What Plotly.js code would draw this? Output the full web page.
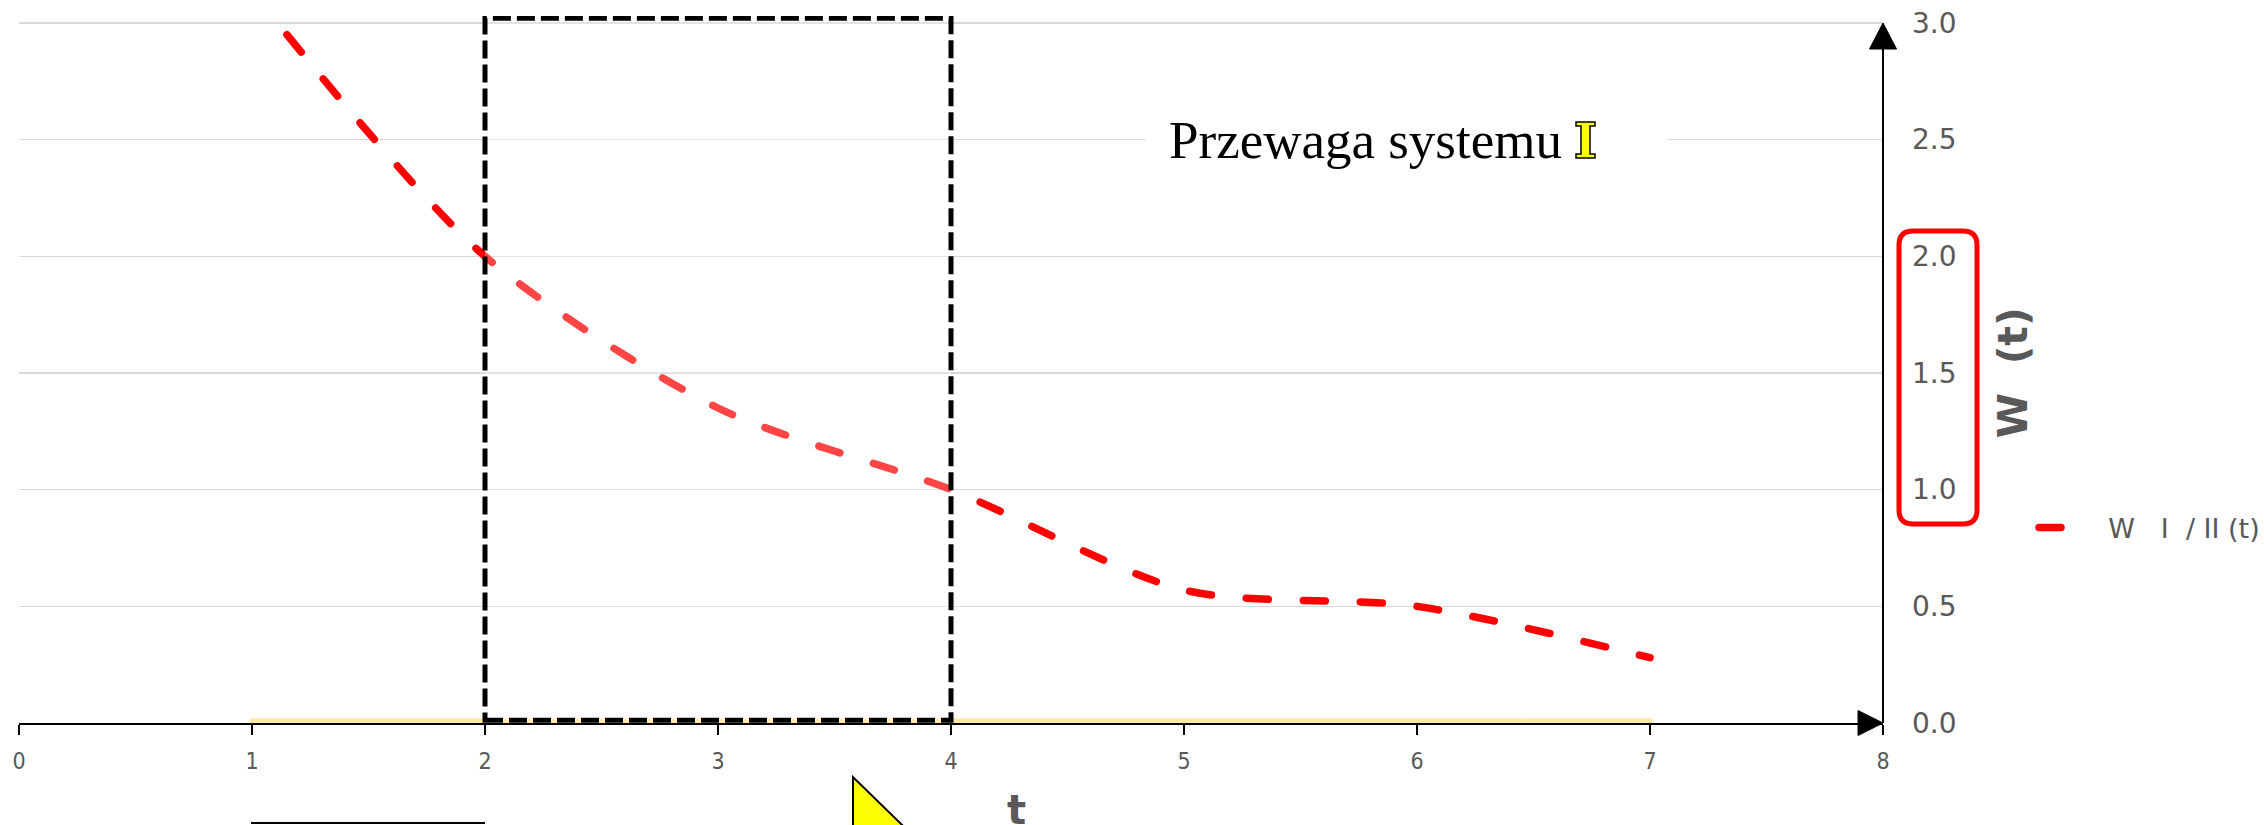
<!DOCTYPE html>
<html>
<head>
<meta charset="utf-8">
<script src="https://cdn.plot.ly/plotly-3.0.1.min.js"></script>
<style>
html,body{margin:0;padding:0;background:#fff;}
#chart{width:2264px;height:825px;}
.scatterlayer .js-line, .legend .js-line{stroke-linecap:round;}
</style>
</head>
<body>
<div id="chart"></div>
<script>
// ---- data ----
var ratioX = [1.15, 2, 3, 4, 5, 6, 7];
var ratioY = [2.95, 2.0, 1.35, 1.0, 0.57, 0.50, 0.28];
var baseX = [1, 2, 3, 4, 5, 6, 7];
var baseY = [0.01, 0.01, 0.01, 0.01, 0.01, 0.01, 0.01];
var xTicks = [0, 1, 2, 3, 4, 5, 6, 7, 8];
var yTicks = [0, 0.5, 1.0, 1.5, 2.0, 2.5, 3.0];
var seriesName = '\u00a0\u00a0\u00a0\u00a0W\u00a0\u00a0\u00a0I\u00a0\u00a0/ II (t)';
var boxFrom = 2, boxTo = 4;
var noteText = 'Przewaga systemu';
var gray = '#595959';

var traces = [
  {x: baseX, y: baseY, type: 'scatter', mode: 'lines', showlegend: false, hoverinfo: 'skip',
   line: {color: 'rgba(255,192,0,0.35)', width: 5}},
  {x: ratioX, y: ratioY, type: 'scatter', mode: 'lines', name: seriesName,
   line: {color: '#FF0000', width: 7.5, dash: '22px,35px', shape: 'spline', smoothing: 0.8}}
];

var shapes = [
  // white box behind note
  {type: 'rect', xref: 'x', yref: 'y', x0: 4.837, x1: 7.073, y0: 2.33, y1: 2.67,
   fillcolor: '#ffffff', line: {width: 0}, layer: 'between'},
  // dashed highlight box
  {type: 'rect', xref: 'x', yref: 'y', x0: boxFrom, x1: boxTo, y0: 0.012, y1: 3.02,
   fillcolor: 'rgba(255,255,255,0.27)', line: {color: '#000', width: 5, dash: '18px,6px'}, layer: 'above'},
  // y axis line
  {type: 'line', xref: 'paper', yref: 'y', x0: 1, x1: 1, y0: 0, y1: 2.95,
   line: {color: '#000', width: 2}},
  // x arrow head
  {type: 'path', xref: 'paper', yref: 'paper', xsizemode: 'pixel', ysizemode: 'pixel', xanchor: 1, yanchor: 0,
   path: 'M 0,0 L -25,12.5 L -25,-12.5 Z', fillcolor: '#000', line: {color: '#000', width: 1}},
  // y arrow head
  {type: 'path', xref: 'paper', yref: 'paper', xsizemode: 'pixel', ysizemode: 'pixel', xanchor: 1, yanchor: 0,
   path: 'M 0,700 L -13.5,674 L 13.5,674 Z', fillcolor: '#000', line: {color: '#000', width: 1}},
  // red rounded frame around ticks
  {type: 'path', xref: 'paper', yref: 'paper', xsizemode: 'pixel', ysizemode: 'pixel', xanchor: 1, yanchor: 0,
   path: 'M 30,492 L 80,492 Q 94,492 94,478 L 94,213 Q 94,199 80,199 L 30,199 Q 16,199 16,213 L 16,478 Q 16,492 30,492 Z',
   line: {color: '#FF0000', width: 5}},
  // yellow outlined I
  {type: 'path', xref: 'paper', yref: 'paper', xsizemode: 'pixel', ysizemode: 'pixel', xanchor: 0, yanchor: 0,
   path: 'M 1557,565 L 1576,565 L 1576,569 L 1571,569 L 1571,597 L 1576,597 L 1576,601 L 1557,601 L 1557,597 L 1562,597 L 1562,569 L 1557,569 Z',
   fillcolor: '#FFFF00', line: {color: '#000', width: 1.5}},
  // yellow triangle at bottom
  {type: 'path', xref: 'paper', yref: 'paper', xsizemode: 'pixel', ysizemode: 'pixel', xanchor: 0, yanchor: 0,
   path: 'M 834,-54 L 834,-180 L 963,-180 Z', fillcolor: '#FFFF00', line: {color: '#000', width: 2}},
  // bottom line segment
  {type: 'path', xref: 'paper', yref: 'paper', xsizemode: 'pixel', ysizemode: 'pixel', xanchor: 0, yanchor: 0,
   path: 'M 232,-100 L 466,-100', line: {color: '#000', width: 2}}
];

var annotations = [
  {xref: 'x', yref: 'y', x: 4.927, y: 2.5, xanchor: 'left', yanchor: 'middle', showarrow: false,
   text: noteText, font: {family: 'Liberation Serif, Times New Roman, serif', size: 53, color: '#000'}},
  {xref: 'paper', yref: 'paper', x: 1.0698, y: 0.495, xanchor: 'center', yanchor: 'middle', showarrow: false,
   textangle: -90, text: '<b>W\u00a0\u00a0(t)</b>', font: {family: 'DejaVu Sans, sans-serif', size: 41, color: gray}},
  {xref: 'x', yref: 'paper', x: 4.28, y: -0.088, xanchor: 'center', yanchor: 'top', showarrow: false,
   text: '<b>t</b>', font: {family: 'DejaVu Sans, sans-serif', size: 40, color: gray}}
];

var layout = {
  width: 2264, height: 825,
  margin: {l: 19, r: 381, t: 16, b: 102, pad: 0, autoexpand: false},
  paper_bgcolor: '#fff', plot_bgcolor: '#fff',
  showlegend: true,
  legend: {x: 1.081, y: 0.276, xanchor: 'left', yanchor: 'middle',
           font: {family: 'DejaVu Sans, sans-serif', size: 27, color: gray}, bgcolor: 'rgba(0,0,0,0)'},
  xaxis: {range: [0, 8], tickvals: xTicks, ticktext: xTicks.map(String), showgrid: false, zeroline: false, automargin: false,
          showline: true, linecolor: '#000', linewidth: 2, ticks: 'outside', ticklen: 10, tickwidth: 1.5, tickcolor: '#000',
          ticklabelstandoff: 6,
          tickfont: {family: 'DejaVu Sans Condensed, DejaVu Sans, sans-serif', size: 23, color: gray}, fixedrange: true},
  yaxis: {range: [0, 3.03], side: 'right', tickvals: yTicks, ticktext: yTicks.map(function(v){return v.toFixed(1);}),
          showgrid: true, gridcolor: '#D9D9D9', gridwidth: 1.5, zeroline: false, showline: false, ticks: '', automargin: false,
          ticklabelstandoff: 28,
          tickfont: {family: 'DejaVu Sans, sans-serif', size: 28, color: gray}, fixedrange: true},
  shapes: shapes,
  annotations: annotations
};

Plotly.newPlot('chart', traces, layout, {displayModeBar: false, staticPlot: true});
</script>
</body>
</html>
